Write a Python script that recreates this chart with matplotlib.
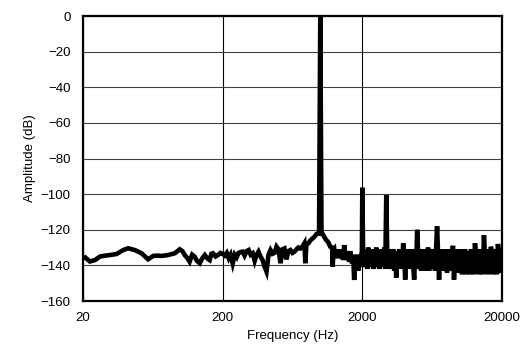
import matplotlib
matplotlib.use("Agg")
import matplotlib.pyplot as plt
from matplotlib.ticker import FixedLocator, NullLocator, FixedFormatter

plt.rcParams['font.family'] = ['Liberation Sans', 'DejaVu Sans']

# Low-frequency noise floor (20-200 Hz)
freq_low = [20, 20.7, 22.4, 24.4, 26.5, 29, 31.2, 34.8, 38.8, 42.1, 47, 52.5, 58.5,
            63.6, 68, 73, 81.3, 90.8, 98.6, 103, 107, 112, 116, 121, 126, 131, 137,
            143, 149, 155, 161.5, 166, 170.5, 178, 185, 193, 201]
amp_low = [-136, -135.5, -137.8, -137, -135, -134.5, -134.2, -133.6, -131.4, -130.4,
           -131.4, -133.2, -136.6, -134.7, -134.5, -134.7, -134.2, -133.2, -131, -132,
           -134.2, -136, -137.9, -134, -135.1, -137.5, -138.8, -136, -134.2, -136, -137,
           -133.5, -133.2, -135, -134.2, -133, -133.6]

# Mid band incl. 1 kHz fundamental (200-2000 Hz)
freq_mid = [207, 214, 221, 228, 236, 244, 252, 260, 269, 278,
            287, 297, 307, 317, 328, 339, 350, 361, 373, 386,
            399, 412, 426, 440, 455, 470, 486, 502, 519, 536,
            554, 572, 591, 611, 632, 653, 675, 697, 720, 744,
            769, 782, 795, 822, 849, 877, 907, 937, 968, 980,
            1000, 1020, 1033, 1068, 1103, 1140, 1178, 1218, 1228,
            1240, 1258, 1279, 1300, 1322, 1344, 1366, 1389, 1412, 1435,
            1459, 1483, 1508, 1533, 1558, 1584, 1610, 1637, 1664, 1691,
            1720, 1748, 1777, 1806, 1836, 1867, 1898, 1929, 1960, 1985]
amp_mid = [-134.5, -133, -136, -134, -138.9, -134, -135.5, -133, -132.5, -132.3,
           -134.5, -132, -131.4, -134, -133.2, -137.5, -134, -132.3, -135, -137,
           -140.7, -143.5, -134, -131.4, -133.5, -133, -129.5, -131, -138.8, -131,
           -130.5, -136.6, -132, -131.4, -133, -132.3, -131, -130, -130.5, -129.5,
           -127.6, -138.8, -128, -127.6, -126, -125, -124, -122.5, -122, -122,
           0, -122, -122, -124, -125.8, -127, -129.5, -130, -140.7,
           -131, -130.5, -135, -131, -136, -132, -135, -131, -136, -133,
           -137, -128.6, -136, -132, -137, -134, -138, -132, -137, -138.8,
           -134, -148.2, -136, -140, -134, -143, -136, -138, -134, -133]

# High band with harmonics (2-20 kHz)
freq_high = [2000, 2033, 2067, 2101, 2136, 2171, 2207, 2244, 2281, 2319,
             2357, 2396, 2436, 2476, 2517, 2559, 2601, 2644, 2688, 2733,
             2778, 2824, 2871, 2919, 2967, 3016, 3066, 3117, 3168, 3221,
             3274, 3328, 3383, 3439, 3496, 3554, 3613, 3673, 3734, 3796,
             3859, 3923, 3988, 4054, 4121, 4189, 4259, 4330, 4401, 4474,
             4548, 4624, 4700, 4778, 4857, 4938, 5019, 5103, 5187, 5273,
             5360, 5449, 5539, 5631, 5724, 5819, 5915, 6013, 6113, 6214,
             6317, 6422, 6528, 6636, 6746, 6858, 6971, 7087, 7204, 7324,
             7445, 7569, 7694, 7822, 7951, 8083, 8217, 8353, 8491, 8632,
             8775, 8921, 9068, 9219, 9371, 9527, 9685, 9846, 10009, 10175,
             10343, 10515, 10689, 10866, 11046, 11229, 11415, 11605, 11797, 11993,
             12191, 12394, 12599, 12808, 13020, 13236, 13455, 13678, 13905, 14136,
             14370, 14608, 14850, 15096, 15346, 15601, 15859, 16122, 16390, 16661,
             16938, 17218, 17504, 17794, 18089, 18389, 18694, 19004, 19319, 19639,
             19965, 20000]
amp_high = [-96.4, -141, -131, -140, -132, -142, -130, -141, -133, -139,
            -131, -142, -132, -140, -130, -141, -133, -142, -131, -140,
            -132, -141, -130, -142, -100.5, -133, -141, -131, -142, -132,
            -140, -131, -143, -132, -147, -133, -141, -131, -142, -132,
            -141, -127.6, -133, -148, -132, -142, -131, -141, -133, -142,
            -131, -140, -148, -132, -142, -120, -133, -142, -131, -143,
            -132, -141, -131, -143, -132, -142, -130, -143, -132, -141,
            -131, -142, -132, -143, -131, -118, -133, -148, -132, -142,
            -131, -143, -132, -142, -131, -144, -132, -142, -131, -143,
            -132, -129, -148, -133, -143, -131, -144, -132, -143, -131,
            -145, -132, -144, -131, -145, -133, -144, -132, -145, -131,
            -144, -132, -145, -127.6, -133, -144, -132, -145, -131, -144,
            -132, -145, -123, -133, -144, -131, -145, -132, -144, -129.5,
            -133, -145, -131, -144, -132, -145, -128, -132, -144, -131,
            -143, -138]

freq = freq_low + freq_mid + freq_high
amp = amp_low + amp_mid + amp_high

x_ticks = [20, 200, 2000, 20000]
x_labels = ["20", "200", "2000", "20000"]
y_ticks = [0, -20, -40, -60, -80, -100, -120, -140, -160]

fig = plt.figure(figsize=(5.24, 3.54), dpi=100)
ax = fig.add_axes([0.1584, 0.1497, 0.7996, 0.8051])

ax.plot(freq, amp, color='black', lw=3.3, solid_joinstyle='miter',
        solid_capstyle='butt', zorder=3)

ax.set_xscale('log')
ax.set_xlim(20, 20000)
ax.set_ylim(-160, 0)
ax.xaxis.set_major_locator(FixedLocator(x_ticks))
ax.xaxis.set_major_formatter(FixedFormatter(x_labels))
ax.xaxis.set_minor_locator(NullLocator())
ax.set_yticks(y_ticks)
ax.set_yticklabels(["0" if v == 0 else "\u2212%d" % (-v) for v in y_ticks])

ax.grid(True, which='major', axis='x', color='black', lw=0.8)
ax.grid(True, which='major', axis='y', color='#404040', lw=0.8)
ax.set_axisbelow(True)

ax.tick_params(axis='both', length=0, labelsize=9.5)
ax.tick_params(axis='y', pad=9)
ax.tick_params(axis='x', pad=8)

for s in ax.spines.values():
    s.set_linewidth(1.6)
    s.set_zorder(4)

ax.set_xlabel("Frequency (Hz)", fontsize=9.5, labelpad=4)
ax.set_ylabel("Amplitude (dB)", fontsize=9.5, labelpad=3)

fig.savefig("out.png", dpi=100)
